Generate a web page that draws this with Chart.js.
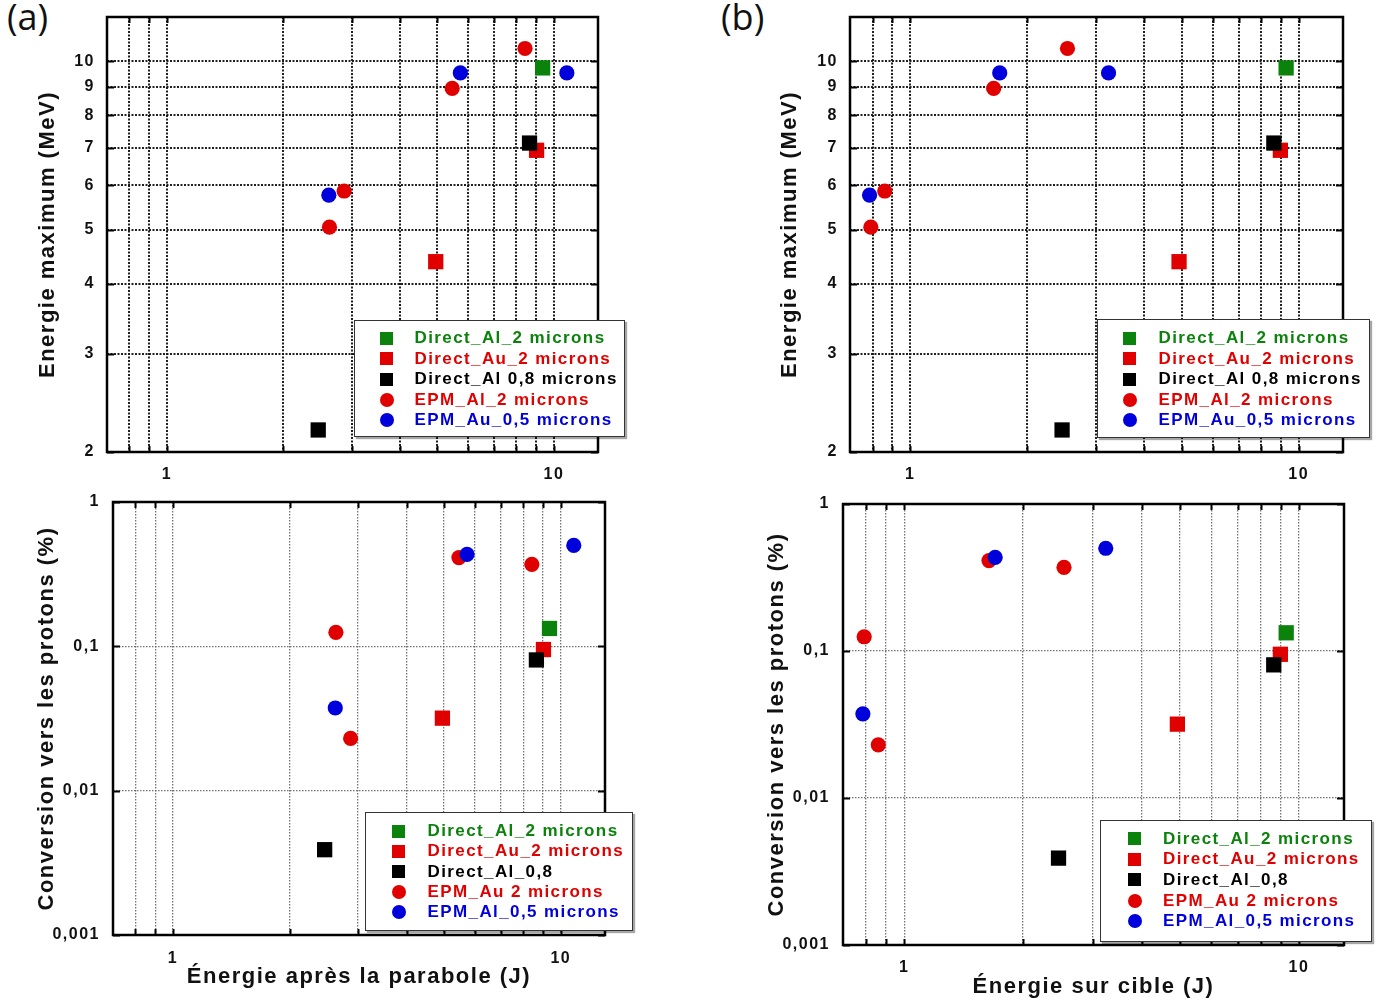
<!DOCTYPE html>
<html>
<head>
<meta charset="utf-8">
<script src="https://cdn.jsdelivr.net/npm/chart.js@4.4.0/dist/chart.umd.min.js"></script>
<style>
  html, body { margin: 0; padding: 0; background: #ffffff; }
  body { position: relative; width: 1376px; height: 1000px; overflow: hidden; font-family: "Liberation Sans", Arial, sans-serif; }
  canvas { position: absolute; display: block; }
  .panel-label { position: absolute; font-family: "Open Sans", sans-serif; font-size: 36px; line-height: 36px; color: #111; }
  .legend { position: absolute; box-sizing: border-box; background: #fff; border: 1.5px solid #333; box-shadow: 2px 2px 1px rgba(0,0,0,0.35); }
  .legend .row { position: absolute; left: 0; right: 0; height: 20px; line-height: 20px; font-weight: bold; font-size: 17px; letter-spacing: 1.4px; white-space: nowrap; }
  .legend .mk { position: absolute; top: 3.5px; width: 13px; height: 13px; }
  .legend .tx { position: absolute; top: 0; }
</style>
</head>
<body>
<div class="panel-label" style="left:7px; top:-1px;">(a)</div>
<div class="panel-label" style="left:721px; top:-1px;">(b)</div>
<canvas id="cA1" width="688" height="490" style="left:0px; top:0px; width:688px; height:490px;"></canvas>
<canvas id="cA2" width="688" height="510" style="left:0px; top:490px; width:688px; height:510px;"></canvas>
<canvas id="cB1" width="688" height="490" style="left:688px; top:0px; width:688px; height:490px;"></canvas>
<canvas id="cB2" width="688" height="510" style="left:688px; top:490px; width:688px; height:510px;"></canvas>
<script>
// ---------------- DATA ----------------
const seriesLabelsTop = ['Direct_Al_2 microns', 'Direct_Au_2 microns', 'Direct_Al 0,8 microns', 'EPM_Al_2 microns', 'EPM_Au_0,5 microns'];
const seriesLabelsBottom = ['Direct_Al_2 microns', 'Direct_Au_2 microns', 'Direct_Al_0,8', 'EPM_Au 2 microns', 'EPM_Al_0,5 microns'];
// one inner array per series (same order as the labels), one value per shot
const energyParabola = [[9.35], [9.02, 4.95], [8.65, 2.46], [8.42, 5.46, 2.87, 2.63], [5.73, 10.8, 2.62]];   // J
const energyTarget   = [[9.28], [8.97, 4.92], [8.63, 2.46], [2.54, 1.64, 0.86, 0.792], [1.70, 3.24, 0.786]]; // J
const maxEnergy      = [[9.73], [6.93, 4.38], [7.14, 2.19], [10.54, 8.94, 5.86, 5.05], [9.53, 9.53, 5.76]];  // MeV
const conversion     = [[0.133], [0.095, 0.0318], [0.0805, 0.0039], [0.37, 0.412, 0.023, 0.125], [0.434, 0.50, 0.0374]]; // %
const xTickValues = [0.8, 0.9, 1, 2, 3, 4, 5, 6, 7, 8, 9, 10];
const xTickLabels = ['', '', '1', '', '', '', '', '', '', '', '', '10'];
const yTickValuesTop = [2, 3, 4, 5, 6, 7, 8, 9, 10];
const yTickLabelsTop = ['2', '3', '4', '5', '6', '7', '8', '9', '10'];
const yTickValuesBottom = [0.001, 0.01, 0.1, 1];
const yTickLabelsBottom = ['0,001', '0,01', '0,1', '1'];

// ---------------- STYLE ----------------
const seriesColors = ['#0b820b', '#e00000', '#000000', '#e00000', '#0000dc'];
const seriesShapes = ['rect', 'rect', 'rect', 'circle', 'circle'];
const FONT = "'Liberation Sans', Arial, sans-serif";

function buildDatasets(xs, ys, labels) {
  return xs.map((xArr, s) => ({
    label: labels[s],
    data: xArr.map((x, i) => ({ x: x, y: ys[s][i] })),
    pointStyle: seriesShapes[s],
    pointRadius: seriesShapes[s] === 'rect' ? 10.8 : 7.6,
    pointHoverRadius: seriesShapes[s] === 'rect' ? 10.8 : 7.6,
    backgroundColor: seriesColors[s],
    borderColor: seriesColors[s],
    borderWidth: 0,
    showLine: false,
    order: 5 - s
  }));
}

const spacingPlugin = {
  id: 'spacing',
  beforeDraw(chart) { try { chart.ctx.letterSpacing = '1.5px'; } catch (e) {} },
  afterDraw(chart) { try { chart.ctx.letterSpacing = '0px'; } catch (e) {} }
};

const framePlugin = {
  id: 'frame',
  afterDatasetsDraw(chart) {
    const ctx = chart.ctx;
    const { left, right, top, bottom } = chart.chartArea;
    const xs = chart.scales.x, ys = chart.scales.y;
    ctx.save();
    ctx.strokeStyle = '#000';
    ctx.lineWidth = 2;
    ctx.setLineDash([]);
    ctx.beginPath();
    xs.ticks.forEach(t => {
      const px = Math.round(xs.getPixelForValue(t.value)) + 0.5;
      ctx.moveTo(px, bottom); ctx.lineTo(px, bottom - 6);
      ctx.moveTo(px, top); ctx.lineTo(px, top + 6);
    });
    ys.ticks.forEach(t => {
      const py = Math.round(ys.getPixelForValue(t.value)) + 0.5;
      ctx.moveTo(left, py); ctx.lineTo(left + 7, py);
      ctx.moveTo(right, py); ctx.lineTo(right - 7, py);
    });
    ctx.stroke();
    ctx.lineWidth = 2.5;
    ctx.strokeRect(left, top, right - left, bottom - top);
    ctx.restore();
  }
};

function makeChart(id, xs, ys, labels, g, yVals, yLabs, yMin, yMax, yTitle, xTitle, grid) {
  new Chart(document.getElementById(id), {
    type: 'scatter',
    data: { datasets: buildDatasets(xs, ys, labels) },
    options: {
      responsive: false,
      animation: false,
      devicePixelRatio: 1,
      layout: { padding: { left: 0, right: g.padR, top: g.padT, bottom: 0 } },
      plugins: { legend: { display: false }, tooltip: { enabled: false } },
      scales: {
        x: {
          type: 'logarithmic', position: 'bottom', min: 0.7, max: 13,
          afterBuildTicks: s => { s.ticks = xTickValues.map(v => ({ value: v })); },
          afterFit: s => { s.height = g.xH; s.paddingLeft = 0; s.paddingRight = 0; s.paddingTop = 0; s.paddingBottom = 0; },
          ticks: {
            autoSkip: false, maxRotation: 0, minRotation: 0, padding: g.xTickPad, color: '#111',
            font: { family: FONT, size: 16, weight: 'bold' },
            callback: v => { const i = xTickValues.indexOf(v); return i >= 0 ? xTickLabels[i] : ''; }
          },
          grid: { color: grid.color, lineWidth: grid.width, drawTicks: false, borderDash: grid.dash },
          border: { display: false, dash: grid.dash },
          title: xTitle ? { display: true, text: xTitle, color: '#111', font: { family: FONT, size: 22, weight: 'bold' }, padding: { top: 0, bottom: g.xTitlePad } } : { display: false }
        },
        y: {
          type: 'logarithmic', position: 'left', min: yMin, max: yMax,
          afterBuildTicks: s => { s.ticks = yVals.map(v => ({ value: v })); },
          afterFit: s => { s.width = g.yW; s.paddingLeft = 0; s.paddingRight = 0; s.paddingTop = 0; s.paddingBottom = 0; },
          ticks: {
            autoSkip: false, padding: g.yTickPad, color: '#111',
            font: { family: FONT, size: 16, weight: 'bold' },
            callback: v => { const i = yVals.indexOf(v); return i >= 0 ? yLabs[i] : ''; }
          },
          grid: { color: grid.color, lineWidth: grid.width, drawTicks: false, borderDash: grid.dash },
          border: { display: false, dash: grid.dash },
          title: { display: true, text: yTitle, color: '#111', font: { family: FONT, size: 22, weight: 'bold' }, padding: { top: g.yTitlePad, bottom: 0 } }
        }
      }
    },
    plugins: [spacingPlugin, framePlugin]
  });
}

const gridTop = { color: 'rgba(20,20,20,0.95)', width: 2, dash: [2, 1.5] };
const gridBottom = { color: 'rgba(90,90,90,0.85)', width: 1.3, dash: [1.5, 1.5] };

makeChart('cA1', energyParabola, maxEnergy, seriesLabelsTop,
  { padT: 17, padR: 90, yW: 107, xH: 38, yTitlePad: 35, yTickPad: 12, xTickPad: 13 },
  yTickValuesTop, yTickLabelsTop, 2, 12, 'Energie maximum (MeV)', null, gridTop);
makeChart('cA2', energyParabola, conversion, seriesLabelsBottom,
  { padT: 12, padR: 83, yW: 113, xH: 65, yTitlePad: 34, yTickPad: 13, xTickPad: 14, xTitlePad: 10 },
  yTickValuesBottom, yTickLabelsBottom, 0.001, 1, 'Conversion vers les protons (%)', 'Énergie après la parabole (J)', gridBottom);
makeChart('cB1', energyTarget, maxEnergy, seriesLabelsTop,
  { padT: 17, padR: 33, yW: 162, xH: 38, yTitlePad: 89, yTickPad: 12, xTickPad: 13 },
  yTickValuesTop, yTickLabelsTop, 2, 12, 'Energie maximum (MeV)', null, gridTop);
makeChart('cB2', energyTarget, conversion, seriesLabelsBottom,
  { padT: 14, padR: 32, yW: 155, xH: 55, yTitlePad: 76, yTickPad: 13, xTickPad: 13, xTitlePad: 0 },
  yTickValuesBottom, yTickLabelsBottom, 0.001, 1, 'Conversion vers les protons (%)', 'Énergie sur cible (J)', gridBottom);

// ---------------- LEGENDS (HTML text) ----------------
function buildLegend(labels, box) {
  const el = document.createElement('div');
  el.className = 'legend';
  el.style.left = box.left + 'px';
  el.style.top = box.top + 'px';
  el.style.width = box.width + 'px';
  el.style.height = box.height + 'px';
  labels.forEach((lab, i) => {
    const row = document.createElement('div');
    row.className = 'row';
    row.style.top = (box.firstRow + i * box.step - box.top - 10 - 1.5) + 'px';
    const mk = document.createElement('span');
    mk.className = 'mk';
    mk.style.left = (box.markerX - box.left - 6.5 - 1.5) + 'px';
    mk.style.background = seriesColors[i];
    if (seriesShapes[i] === 'circle') { mk.style.borderRadius = '50%'; mk.style.width = '14px'; mk.style.height = '14px'; mk.style.top = '3px'; }
    const tx = document.createElement('span');
    tx.className = 'tx';
    tx.style.left = (box.textX - box.left - 1.5) + 'px';
    tx.style.color = seriesColors[i];
    tx.textContent = lab;
    row.appendChild(mk);
    row.appendChild(tx);
    el.appendChild(row);
  });
  document.body.appendChild(el);
}
buildLegend(seriesLabelsTop,    { left: 354,  top: 319.5, width: 271,   height: 117.5, markerX: 387,    textX: 415,   firstRow: 338.5, step: 20.6 });
buildLegend(seriesLabelsTop,    { left: 1097, top: 318.5, width: 273,   height: 119,   markerX: 1130,   textX: 1159,  firstRow: 338.5, step: 20.6 });
buildLegend(seriesLabelsBottom, { left: 364.5, top: 812,  width: 268,   height: 118.5, markerX: 399,    textX: 428,   firstRow: 831.5, step: 20.3 });
buildLegend(seriesLabelsBottom, { left: 1100, top: 820,   width: 271.5, height: 121.5, markerX: 1134.5, textX: 1163.5, firstRow: 839,  step: 20.7 });
</script>
</body>
</html>
